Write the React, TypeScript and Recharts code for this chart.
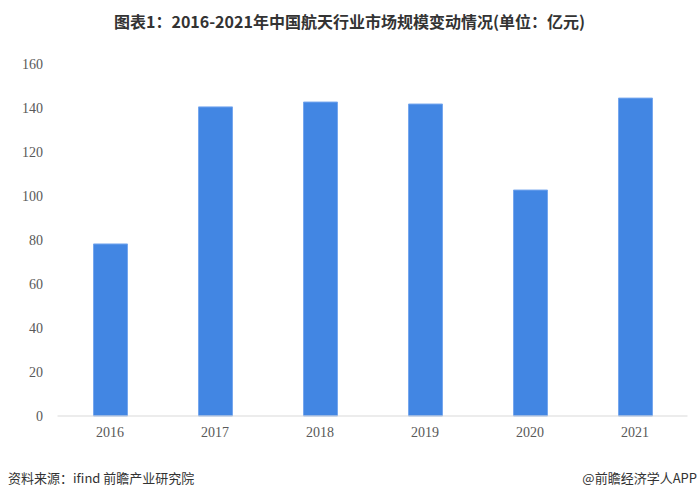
import React from "react";
import { BarChart, Bar, XAxis, YAxis } from "recharts";

const years = ["2016", "2017", "2018", "2019", "2020", "2021"];
const marketSize = [78.2, 140.5, 142.7, 141.8, 102.7, 144.5];
const yTicks = [0, 20, 40, 60, 80, 100, 120, 140, 160];

const data = years.map((y, i) => ({ year: y, value: marketSize[i] }));

const tickStyle = { fontFamily: "'Liberation Serif', 'DejaVu Serif', serif", fontSize: 14, fill: "#595959" };

export default function App() {
  return (
    <div style={{ position: "absolute", left: 0, top: 0, width: 699, height: 498, background: "#fff" }}>
      <div
        style={{
          position: "absolute",
          left: 0,
          top: 10,
          width: 699,
          textAlign: "center",
          fontFamily: "'Noto Sans CJK SC', 'Noto Sans', sans-serif",
          fontWeight: 700,
          fontSize: 16,
          lineHeight: "22px",
          color: "#333333",
        }}
      >
        图表1：2016-2021年中国航天行业市场规模变动情况(单位：亿元)
      </div>
      <BarChart
        width={699}
        height={498}
        data={data}
        margin={{ top: 64, right: 11.5, left: 0, bottom: 52 }}
        style={{ position: "absolute", left: 0, top: 0 }}
      >
        <XAxis
          dataKey="year"
          axisLine={{ stroke: "#d9d9d9" }}
          tickLine={false}
          tickSize={0}
          tickMargin={11}
          tick={tickStyle}
          height={30}
        />
        <YAxis
          domain={[0, 160]}
          ticks={yTicks}
          axisLine={false}
          tickLine={false}
          tickSize={0}
          tickMargin={14.5}
          width={57.5}
          tick={tickStyle}
          interval={0}
        />
        <Bar dataKey="value" fill="#4286E3" stroke="#76A7EE" strokeWidth={1} barSize={34} isAnimationActive={false} />
      </BarChart>
      <div
        style={{
          position: "absolute",
          left: 8,
          top: 469,
          fontFamily: "'Noto Sans CJK SC', sans-serif",
          fontSize: 13,
          lineHeight: "18px",
          color: "#333333",
        }}
      >
        资料来源：ifind 前瞻产业研究院
      </div>
      <div
        style={{
          position: "absolute",
          right: 2,
          top: 469,
          fontFamily: "'Noto Sans CJK SC', sans-serif",
          fontSize: 13,
          lineHeight: "18px",
          color: "#333333",
        }}
      >
        @前瞻经济学人APP
      </div>
    </div>
  );
}
